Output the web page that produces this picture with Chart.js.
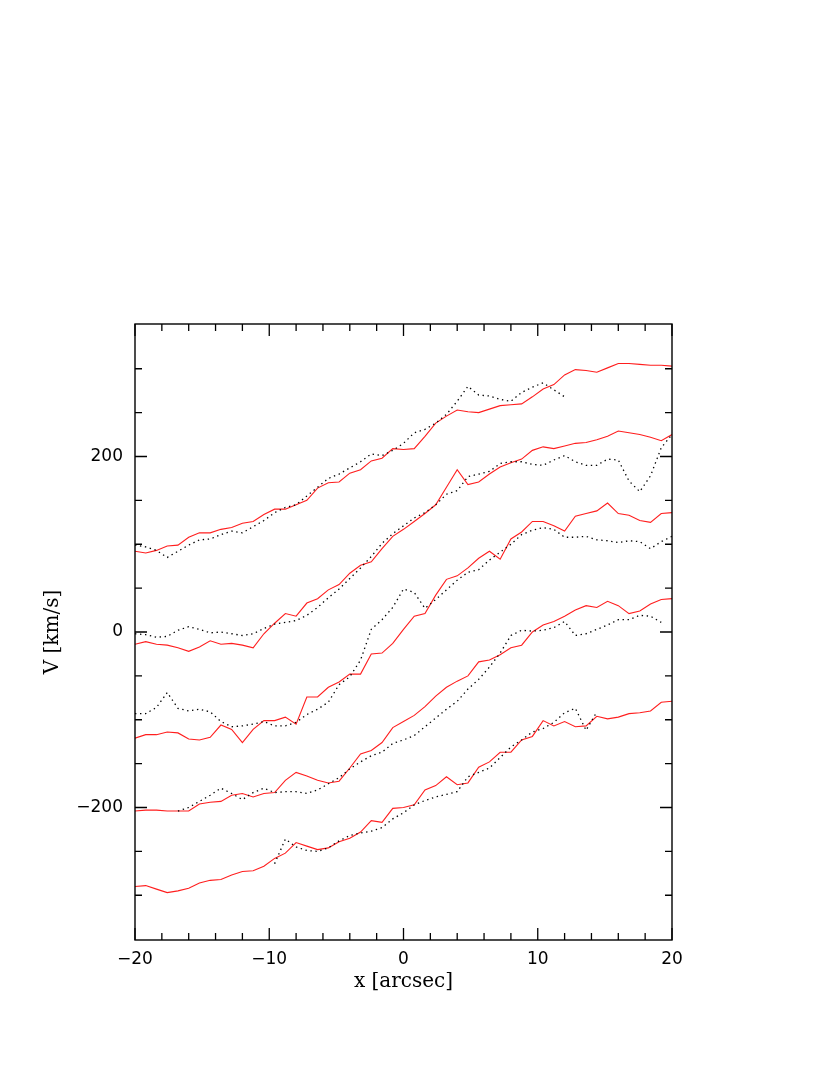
<!DOCTYPE html>
<html>
<head>
<meta charset="utf-8">
<script src="https://cdn.jsdelivr.net/npm/chart.js@4"></script>
<style>
html,body{margin:0;padding:0;background:#fff;}
#wrap{width:830px;height:1075px;}
canvas{display:block;}
</style>
</head>
<body>
<div id="wrap"><canvas id="c" width="830" height="1075"></canvas></div>
<script>
// position along slit (arcsec)
const xs = [-20,-19.2,-18.4,-17.6,-16.8,-16,-15.2,-14.4,-13.6,-12.8,-12,-11.2,-10.4,-9.6,-8.8,-8,-7.2,-6.4,-5.6,-4.8,-4,-3.2,-2.4,-1.6,-0.8,0,0.8,1.6,2.4,3.2,4,4.8,5.6,6.4,7.2,8,8.8,9.6,10.4,11.2,12,12.8,13.6,14.4,15.2,16,16.8,17.6,18.4,19.2,20];

// red solid curves (km/s)
const red1 = [92,90,93,98,99,108,113,113,117,119,124,126,134,140,140,145,150,164,170,171,181,185,195,198,209,208,209,223,238,246,253,251,250,254,258,259,260,268,277,282,293,299,298,296,301,306,306,305,304,304,303];
const red2 = [-14,-11,-14,-15,-18,-22,-17,-10,-14,-13,-15,-18,-2,10,21,18,33,38,48,54,67,76,80,95,109,117,126,135,145,165,185,168,171,180,188,193,197,207,211,209,212,215,216,219,223,229,227,225,222,218,225];
const red3 = [-121,-117,-117,-114,-115,-122,-123,-120,-106,-111,-126,-111,-101,-101,-97,-105,-74,-74,-63,-57,-48,-48,-25,-24,-13,3,18,21,42,60,64,73,84,92,83,106,114,126,126,121,115,132,135,138,147,135,133,127,125,135,136];
const red4 = [-204,-203,-203,-204,-204,-204,-196,-194,-193,-186,-184,-188,-184,-183,-169,-160,-164,-169,-172,-170,-155,-139,-135,-126,-109,-102,-95,-85,-73,-63,-56,-50,-34,-32,-26,-18,-15,0,8,12,18,25,30,28,35,30,21,24,32,37,38];
const red5 = [-290,-289,-293,-297,-295,-292,-286,-283,-282,-277,-273,-272,-267,-258,-252,-240,-244,-248,-246,-239,-235,-228,-215,-217,-201,-200,-197,-180,-175,-165,-174,-172,-154,-148,-137,-137,-123,-119,-101,-107,-102,-108,-107,-96,-99,-97,-93,-92,-90,-80,-79];

// black dotted curves (km/s)
const dot1 = [99,97,93,85,92,99,105,106,111,115,113,120,127,136,142,145,155,165,175,180,187,194,203,201,207,215,227,231,238,248,263,280,270,269,265,263,273,279,284,276,268,null,null,null,null,null,null,null,null,null,null];
const dot2 = [-2,-3,-6,-5,2,6,3,-1,0,-2,-4,-2,4,9,11,13,19,28,39,49,61,73,86,101,112,121,130,136,145,157,161,177,180,183,192,194,194,191,190,196,201,194,190,190,197,196,172,160,178,210,225];
const dot3 = [-93,-93,-86,-69,-87,-90,-88,-91,-102,-108,-107,-105,-102,-107,-107,-103,-94,-88,-80,-60,-51,-32,3,14,28,49,45,27,37,48,59,68,71,82,91,100,111,116,119,117,108,108,109,105,104,102,104,103,95,103,109];
const dot4 = [null,null,null,null,-204,-200,-193,-186,-178,-184,-191,-183,-178,-183,-182,-182,-184,-180,-173,-166,-156,-148,-141,-137,-127,-123,-118,-108,-98,-88,-79,-65,-54,-40,-24,-4,2,1,2,5,12,-4,-2,3,8,14,14,19,18,11,null];
const dot5 = [null,null,null,null,null,null,null,null,null,null,null,null,null,-264,-236,-245,-249,-250,-246,-238,-232,-229,-227,-223,-213,-206,-197,-192,-188,-185,-182,-165,-160,-155,-143,-131,-123,-114,-110,-103,-92,-87,-112,-91,null,null,null,null,null,null,null];

// axis tick labels
const xTickLabels = [-20,-10,0,10,20];
const yTickLabels = [-200,0,200];

const redSeries = [red1,red2,red3,red4,red5];
const dotSeries = [dot1,dot2,dot3,dot4,dot5];

function pts(arr){ return xs.map((x,i)=>({x:x, y:arr[i]})); }

const datasets = [];
dotSeries.forEach(s=>datasets.push({data:pts(s),borderColor:'#000',borderWidth:1.3,borderDash:[1.4,3.6],pointRadius:0,fill:false,spanGaps:false,tension:0}));
redSeries.forEach(s=>datasets.push({data:pts(s),borderColor:'rgb(255,30,30)',borderWidth:1.1,pointRadius:0,fill:false,spanGaps:false,tension:0}));

function fmt(v){ return v<0 ? '\u2212'+Math.abs(v) : String(v); }

const frame = {
  id:'frame',
  afterDraw(chart){
    const ctx = chart.ctx, a = chart.chartArea;
    const xs_ = chart.scales.x, ys_ = chart.scales.y;
    ctx.save();
    ctx.strokeStyle = '#000';
    ctx.lineWidth = 1.4;
    ctx.strokeRect(a.left, a.top, a.right-a.left, a.bottom-a.top);
    ctx.lineWidth = 1.3;
    ctx.beginPath();
    for(let v=-20; v<=20; v+=2){
      const px = xs_.getPixelForValue(v);
      const L = (v%10===0) ? 12 : 7;
      ctx.moveTo(px,a.bottom); ctx.lineTo(px,a.bottom-L);
      ctx.moveTo(px,a.top); ctx.lineTo(px,a.top+L);
    }
    for(let v=-300; v<=300; v+=50){
      const py = ys_.getPixelForValue(v);
      const L = (v%200===0) ? 12 : 7;
      ctx.moveTo(a.left,py); ctx.lineTo(a.left+L,py);
      ctx.moveTo(a.right,py); ctx.lineTo(a.right-L,py);
    }
    ctx.stroke();
    ctx.restore();
  }
};

new Chart(document.getElementById('c'), {
  type:'line',
  data:{datasets:datasets},
  options:{
    responsive:false,
    animation:false,
    events:[],
    layout:{padding:{left:41,top:324,right:158,bottom:81}},
    plugins:{legend:{display:false},tooltip:{enabled:false}},
    scales:{
      x:{
        type:'linear', min:-20, max:20,
        grid:{display:false,drawTicks:false},
        border:{display:false},
        afterBuildTicks(s){ s.ticks = xTickLabels.map(v=>({value:v})); },
        afterFit(s){ s.height = 54; },
        ticks:{padding:9,color:'#000',maxRotation:0,autoSkip:false,font:{family:'DejaVu Sans',size:17},callback:(v)=>fmt(v)},
        title:{display:true,text:'x [arcsec]',color:'#000',padding:0,font:{family:'DejaVu Serif',size:20}}
      },
      y:{
        type:'linear', min:-351, max:351,
        grid:{display:false,drawTicks:false},
        border:{display:false},
        afterBuildTicks(s){ s.ticks = yTickLabels.map(v=>({value:v})); },
        afterFit(s){ s.width = 94; },
        ticks:{padding:12,color:'#000',autoSkip:false,font:{family:'DejaVu Sans',size:17},callback:(v)=>fmt(v)},
        title:{display:true,text:'V [km/s]',color:'#000',padding:0,font:{family:'DejaVu Serif',size:20}}
      }
    }
  },
  plugins:[frame]
});
</script>
</body>
</html>
